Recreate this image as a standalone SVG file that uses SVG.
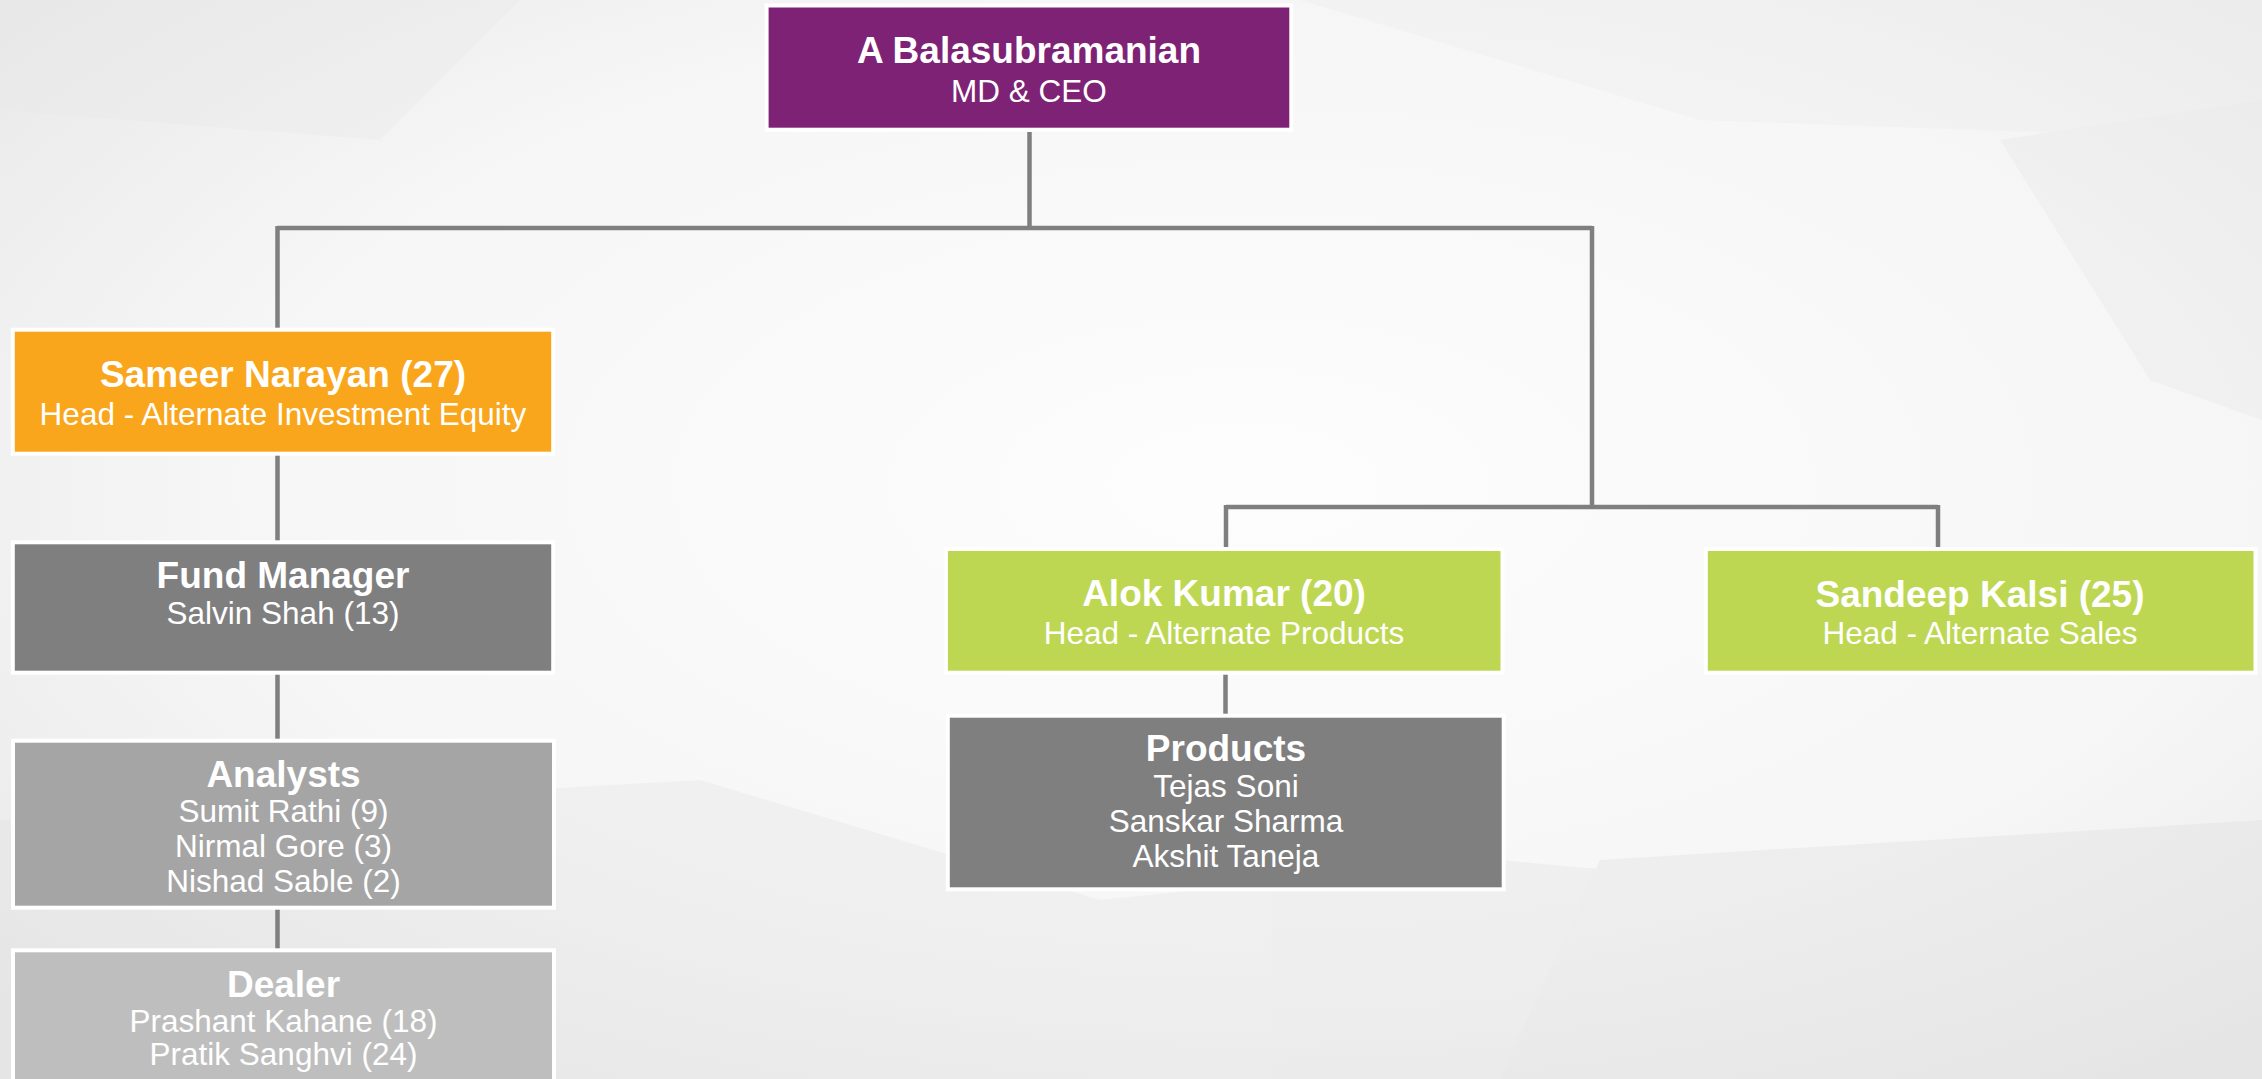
<svg xmlns="http://www.w3.org/2000/svg" width="2262" height="1079" viewBox="0 0 2262 1079">
<defs>
<radialGradient id="bg" cx="0.55" cy="0.45" r="0.75">
<stop offset="0" stop-color="#fdfdfd"/>
<stop offset="0.6" stop-color="#f6f6f6"/>
<stop offset="1" stop-color="#e6e6e6"/>
</radialGradient>
<style>
.box{stroke:#ffffff;stroke-width:4}
.t{font-family:"Liberation Sans",Arial,sans-serif;fill:#ffffff;text-anchor:middle}
.b{font-weight:bold;font-size:37px}
.s{font-size:31.5px}
.c{fill:none;stroke:#7f7f7f;stroke-width:4.5;stroke-linejoin:miter}
</style>
</defs>
<rect x="0" y="0" width="2262" height="1079" fill="url(#bg)"/>
<g opacity="0.35">
<polygon points="0,0 520,0 380,140 0,110" fill="#e9e9e9"/>
<polygon points="1300,0 2262,0 2262,140 1700,120" fill="#ececec"/>
<polygon points="0,820 700,780 1100,900 1500,860 2262,930 2262,1079 0,1079" fill="#e2e2e2"/>
<polygon points="1600,860 2262,820 2262,1079 1500,1079" fill="#dedede"/>
<polygon points="2000,140 2262,100 2262,420 2150,380" fill="#e6e6e6"/>
</g>
<g id="connectors">
<path class="c" d="M1029.5,132 V228 M277.5,228 H1592 M277.5,226 V328 M1592,226 V507 M1226,507 H1938 M1226,505 V549 M1938,505 V549 M277.5,455 V542 M277.5,673 V741 M277.5,909 V950 M1225.5,673 V716"/>
</g>
<g id="ceo">
<rect class="box" x="766.6" y="5.5" width="524.7" height="124.2" fill="#7d2275"/>
<text class="t b" x="1029" y="63.3">A Balasubramanian</text>
<text class="t s" x="1029" y="101.7">MD &amp; CEO</text>
</g>
<g id="sameer">
<rect class="box" x="12.8" y="329.7" width="540.4" height="124" fill="#f9a61c"/>
<text class="t b" x="283" y="387.3">Sameer Narayan (27)</text>
<text class="t s" x="283" y="425">Head - Alternate Investment Equity</text>
</g>
<g id="fund-manager">
<rect class="box" x="12.8" y="542.3" width="540.4" height="130.4" fill="#7f7f7f"/>
<text class="t b" x="283" y="588.3">Fund Manager</text>
<text class="t s" x="283" y="624.3">Salvin Shah (13)</text>
</g>
<g id="analysts">
<rect class="box" x="13" y="740.7" width="541" height="167" fill="#a5a5a5"/>
<text class="t b" x="283.5" y="786.7">Analysts</text>
<text class="t s" x="283.5" y="821.7">Sumit Rathi (9)</text>
<text class="t s" x="283.5" y="856.7">Nirmal Gore (3)</text>
<text class="t s" x="283.5" y="891.7">Nishad Sable (2)</text>
</g>
<g id="dealer">
<rect class="box" x="13" y="950.3" width="541" height="150" fill="#bebebe"/>
<text class="t b" x="283.5" y="996.7">Dealer</text>
<text class="t s" x="283.5" y="1031.7">Prashant Kahane (18)</text>
<text class="t s" x="283.5" y="1065">Pratik Sanghvi (24)</text>
</g>
<g id="alok">
<rect class="box" x="945.9" y="549" width="556.6" height="123.7" fill="#bed753"/>
<text class="t b" x="1224" y="606">Alok Kumar (20)</text>
<text class="t s" x="1224" y="644.3">Head - Alternate Products</text>
</g>
<g id="products">
<rect class="box" x="947.8" y="715.7" width="555.9" height="173.6" fill="#7f7f7f"/>
<text class="t b" x="1226" y="761">Products</text>
<text class="t s" x="1226" y="796.7">Tejas Soni</text>
<text class="t s" x="1226" y="831.7">Sanskar Sharma</text>
<text class="t s" x="1226" y="866.7">Akshit Taneja</text>
</g>
<g id="sandeep">
<rect class="box" x="1705.8" y="549" width="549.7" height="123.7" fill="#bed753"/>
<text class="t b" x="1980" y="606.7">Sandeep Kalsi (25)</text>
<text class="t s" x="1980" y="644.3">Head - Alternate Sales</text>
</g>
</svg>
